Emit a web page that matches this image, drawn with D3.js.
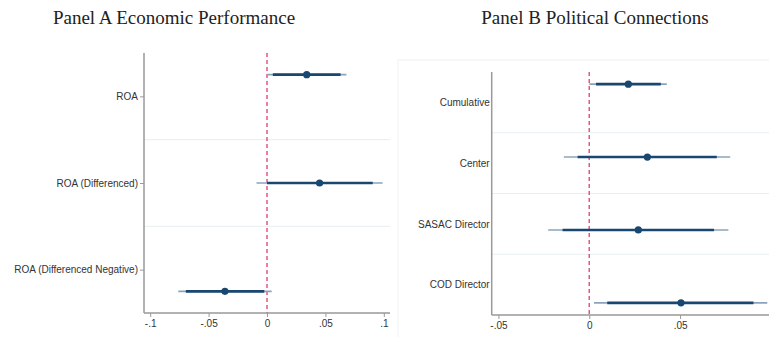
<!DOCTYPE html>
<html><head><meta charset="utf-8">
<script src="https://cdn.jsdelivr.net/npm/d3@7"></script>
<style>body{margin:0;background:#fff}svg{display:block}</style>
</head><body>
<svg id="c" width="769" height="337"></svg>
<script>
// ---- data ----
const titleA = "Panel A Economic Performance";
const titleB = "Panel B Political Connections";
const catsA = ["ROA", "ROA (Differenced)", "ROA (Differenced Negative)"];
const estA = [0.034, 0.045, -0.036];
const lo95A = [0.000, -0.009, -0.076];
const hi95A = [0.068, 0.099, 0.004];
const lo90A = [0.005, 0.000, -0.0695];
const hi90A = [0.063, 0.0905, -0.0023];
const ticksA = [-0.1, -0.05, 0, 0.05, 0.1];
const tickLabelsA = ["-.1", "-.05", "0", ".05", ".1"];

const catsB = ["Cumulative", "Center", "SASAC Director", "COD Director"];
const estB = [0.0215, 0.032, 0.027, 0.0505];
const lo95B = [0.000, -0.014, -0.0226, 0.0026];
const hi95B = [0.0427, 0.0776, 0.0766, 0.098];
const lo90B = [0.0037, -0.0064, -0.0147, 0.0099];
const hi90B = [0.0394, 0.0702, 0.0687, 0.0904];
const ticksB = [-0.05, 0, 0.05];
const tickLabelsB = ["-.05", "0", ".05"];

const svg = d3.select("#c");
const navy = "#1a476f", light = "#8ba4bb", refc = "#e8557f";

function panel(o) {
  const g = svg.append("g");
  if (o.frame) {
    g.append("rect").attr("x", o.frame[0]).attr("y", o.frame[1])
      .attr("width", 800).attr("height", 400)
      .attr("fill", "none").attr("stroke", "#f1f1f1").attr("stroke-width", 1);
  }
  const n = o.cats.length;
  const x = d3.scaleLinear().domain(o.xdom).range([o.left, o.right]);
  const y = d3.scaleLinear().domain([-0.5, n - 0.5]).range([o.top, o.bottom]);
  // separators
  g.selectAll("line.sep").data(d3.range(1, n)).join("line")
    .attr("x1", o.left).attr("x2", o.right)
    .attr("y1", d => y(d - 0.5)).attr("y2", d => y(d - 0.5))
    .attr("stroke", "#e6eff1").attr("stroke-width", 1);
  // reference line
  g.append("line").attr("x1", x(0)).attr("x2", x(0))
    .attr("y1", o.top).attr("y2", o.bottom)
    .attr("stroke", refc).attr("stroke-width", 1.5).attr("stroke-dasharray", "4,3");
  // y axis
  const ya = d3.axisLeft(y).tickValues(d3.range(n)).tickFormat(i => o.cats[i]).tickSize(o.ytick).tickPadding(2);
  const yg = g.append("g").attr("transform", `translate(${o.left},0)`).call(ya);
  yg.select(".domain").attr("stroke", "#999").attr("stroke-width", 1.5).attr("d", `M0,${o.top}V${o.bottom}`);
  yg.selectAll(".tick line").attr("stroke", "#999");
  yg.selectAll("text").attr("fill", "#333").style("font-family", "Liberation Sans, Arial, sans-serif").style("font-size", "10px");
  // x axis
  const xa = d3.axisBottom(x).tickValues(o.ticks).tickFormat((d, i) => o.tickLabels[i]).tickSize(4).tickPadding(3);
  const xg = g.append("g").attr("transform", `translate(0,${o.bottom})`).call(xa);
  xg.select(".domain").attr("stroke", "#999").attr("stroke-width", 1.5).attr("d", `M${o.left},0H${o.right}`);
  xg.selectAll(".tick line").attr("stroke", "#999");
  xg.selectAll("text").attr("fill", "#333").style("font-family", "Liberation Sans, Arial, sans-serif").style("font-size", "10px");
  // marks
  const pos = i => y(i + (i - (n - 1) / 2) * o.spread);
  const idx = d3.range(n);
  g.selectAll("line.ci95").data(idx).join("line")
    .attr("x1", i => x(o.lo95[i])).attr("x2", i => x(o.hi95[i]))
    .attr("y1", pos).attr("y2", pos)
    .attr("stroke", light).attr("stroke-width", 1.6);
  g.selectAll("line.ci90").data(idx).join("line")
    .attr("x1", i => x(o.lo90[i])).attr("x2", i => x(o.hi90[i]))
    .attr("y1", pos).attr("y2", pos)
    .attr("stroke", navy).attr("stroke-width", 2.6);
  g.selectAll("circle").data(idx).join("circle")
    .attr("cx", i => x(o.est[i])).attr("cy", pos).attr("r", 3.6)
    .attr("fill", navy);
  // title
  svg.append("text").attr("x", o.titleX).attr("y", 24).attr("text-anchor", "middle")
    .style("font-family", "Liberation Serif, Times New Roman, serif").style("font-size", "19px")
    .attr("fill", "#222").text(o.title);
}

panel({cats: catsA, est: estA, lo95: lo95A, hi95: hi95A, lo90: lo90A, hi90: hi90A,
  ticks: ticksA, tickLabels: tickLabelsA, xdom: [-0.1053, 0.1053], ytick: 4,
  left: 144, right: 390, top: 53, bottom: 313, spread: 0.25, title: titleA, titleX: 174});
panel({cats: catsB, est: estB, lo95: lo95B, hi95: hi95B, lo90: lo90B, hi90: hi90B,
  ticks: ticksB, tickLabels: tickLabelsB, xdom: [-0.0537, 0.1017], ytick: 0,
  left: 491.7, right: 774, top: 72, bottom: 315, spread: 0.2, title: titleB, titleX: 595,
  frame: [398, 60]});
</script>
</body></html>
